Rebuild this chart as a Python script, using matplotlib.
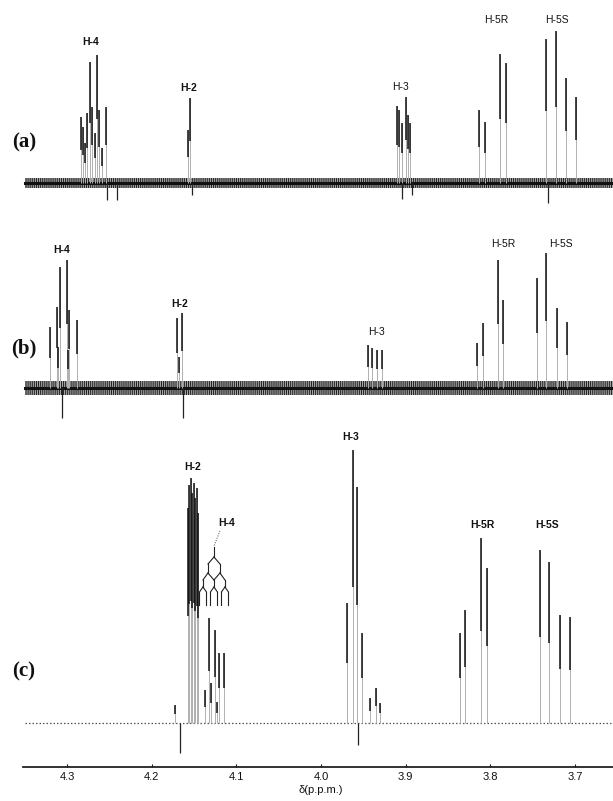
import matplotlib
matplotlib.use('Agg')
import matplotlib.pyplot as plt
import numpy as np

# ---------------- data (chemical shift in ppm, intensity in arbitrary units) -------------
# spectrum (a)
a_ppm = [4.2835, 4.2811, 4.2787, 4.2764, 4.2728, 4.2705, 4.2669, 4.2646, 4.2622, 4.2587,
         4.2540, 4.2528, 4.2410,
         4.1571, 4.1548, 4.1524,
         3.9104, 3.9080, 3.9045, 3.8998, 3.8974, 3.8950, 3.9040, 3.8927,
         3.8136, 3.8065, 3.7888, 3.7817, 3.7345, 3.7227, 3.7109, 3.6990, 3.7321]
a_int = [66, 56, 40, 70, 121, 76, 50, 128, 73, 35,
         76, -17, -17,
         53, 85, -12,
         77, 73, 60, 86, 68, 60, -16, -12,
         73, 61, 129, 120, 144, 152, 105, 86, -20]

# spectrum (b)
b_ppm = [4.3201, 4.3118, 4.3106, 4.3083, 4.3059, 4.3000, 4.2988, 4.2976, 4.2882,
         4.1701, 4.1678, 4.1642, 4.1630,
         3.9446, 3.9399, 3.9340, 3.9281,
         3.8159, 3.8088, 3.7911, 3.7852, 3.7451, 3.7345, 3.7215, 3.7097]
b_int = [61, 81, 41, 121, -30, 128, 38, 78, 68,
         70, 31, 75, -30,
         43, 40, 38, 38,
         45, 65, 128, 88, 110, 135, 80, 66]

# spectrum (c)
c_ppm = [4.1725, 4.1666,
         4.1571, 4.1553, 4.1536, 4.1518, 4.1500, 4.1483, 4.1465, 4.1448,
         4.1371, 4.1323, 4.1300, 4.1253, 4.1229, 4.1205, 4.1146,
         3.9694, 3.9623, 3.9575, 3.9564, 3.9517, 3.9422, 3.9352, 3.9305,
         3.8360, 3.8301, 3.8112, 3.8041, 3.7416, 3.7309, 3.7180, 3.7061]
c_int = [18, -30,
         215, 238, 245, 230, 240, 225, 235, 210,
         33, 105, 40, 93, 21, 70, 70,
         120, 273, 236, -22, 90, 25, 35, 20,
         90, 113, 185, 155, 173, 161, 108, 106]

spectra = ['(a)', '(b)', '(c)']
tick_values = [4.3, 4.2, 4.1, 4.0, 3.9, 3.8, 3.7]
tick_labels = ['4.3', '4.2', '4.1', '4.0', '3.9', '3.8', '3.7']

# peak labels: (text, ppm, intensity level, bold)
labels_a = [('H-4', 4.2716, 141, True), ('H-2', 4.1560, 95, True), ('H-3', 3.9057, 96, False),
            ('H-5R', 3.7935, 163, False), ('H-5S', 3.7215, 163, False)]
labels_b = [('H-4', 4.3059, 138, True), ('H-2', 4.1666, 84, True), ('H-3', 3.9340, 56, False),
            ('H-5R', 3.7853, 144, False), ('H-5S', 3.7168, 144, False)]
labels_c = [('H-2', 4.1512, 256, True), ('H-4', 4.1111, 200, True), ('H-3', 3.9647, 286, True),
            ('H-5R', 3.8088, 198, True), ('H-5S', 3.7333, 198, True)]

# ---------------- layout ----------------
W, H = 613, 801
fig = plt.figure(figsize=(W / 100, H / 100), dpi=100)
axis_px = 767
ax = fig.add_axes([0, (H - axis_px) / H, 1, axis_px / H])
ax.set_xlim(4.3791, 3.6551)
ax.set_ylim(0, axis_px)

bases = {'(a)': 584, '(b)': 379, '(c)': 44}
data = {'(a)': (a_ppm, a_int, labels_a), '(b)': (b_ppm, b_int, labels_b),
        '(c)': (c_ppm, c_int, labels_c)}

plt.rcParams['hatch.linewidth'] = 0.7
x_start = 4.3496
x_end = 3.6551

for name in spectra:
    ppm, inten, labs = data[name]
    base = bases[name]
    ppm = np.asarray(ppm)
    inten = np.asarray(inten, dtype=float)
    # baseline / noise band
    if name in ('(a)', '(b)'):
        half = 5 if name == '(a)' else 7
        ax.fill_between([x_start, x_end], base - half, base + half, facecolor='#9a9a9a',
                        edgecolor='#111111', hatch='||||||||', linewidth=0, alpha=0.9)
        ax.plot([x_start, x_end], [base, base], color='#111111', lw=2.2)
    else:
        ax.plot([x_start, x_end], [base, base], color='#555555', lw=0.9,
                linestyle=(0, (1.2, 1.6)))
    pos = inten > 0
    # faint full-length sticks
    ax.vlines(ppm[pos], base, base + inten[pos], color='#b0b0b0', lw=0.7)
    # dark upper part of each stick
    ax.vlines(ppm[pos], base + 0.5 * inten[pos], base + inten[pos], color='#111111', lw=1.1)
    ax.vlines(ppm[~pos], base, base + inten[~pos], color='#222222', lw=0.9)
    for txt, x, lvl, bold in labs:
        ax.text(x, base + lvl, txt, ha='center', va='center', fontsize=7.5,
                family='Liberation Sans', fontweight='bold' if bold else 'normal',
                color='#111111')

# panel letters
letter_y = {'(a)': 625, '(b)': 419, '(c)': 96}
for name in spectra:
    ax.text(4.3508, letter_y[name], name, ha='center', va='center', fontsize=15,
            family='Liberation Serif', fontweight='bold', color='#111111')

# splitting tree for H-4 in (c)
tx = 4.1264   # tree centre (ppm)
ty = 220      # tree top (intensity units above axis)
px = 1 / 847.0  # ppm per pixel
def seg(x0, y0, x1, y1):
    ax.plot([tx - x0 * px, tx - x1 * px], [ty - y0, ty - y1], color='#222222', lw=0.8)
seg(0, 0, 0, 10)
seg(0, 10, -6, 17); seg(0, 10, 6, 17)
seg(-6, 17, -6, 26); seg(6, 17, 6, 26)
seg(-6, 26, -11, 33); seg(-6, 26, 0, 33); seg(6, 26, 0, 33); seg(6, 26, 11, 33)
for n in (-11, 0, 11):
    seg(n, 33, n, 40)
    seg(n, 40, n - 3.5, 45); seg(n, 40, n + 3.5, 45)
    seg(n - 3.5, 45, n - 3.5, 58); seg(n + 3.5, 45, n + 3.5, 58)
# dotted leader from label
ax.plot([4.1193, 4.1264], [236, 221], color='#444444', lw=0.7, linestyle=(0, (1, 1.5)))

# axis styling
for s in ('top', 'left', 'right'):
    ax.spines[s].set_visible(False)
ax.spines['bottom'].set_bounds(4.352, 3.6551)
ax.spines['bottom'].set_linewidth(1.3)
ax.spines['bottom'].set_color('#222222')
ax.set_yticks([])
ax.set_xticks(tick_values)
ax.set_xticklabels(tick_labels, family='Liberation Sans', fontsize=8)
ax.tick_params(axis='x', direction='in', length=2.5, width=0.8, pad=3.5, colors='#111111')
ax.text(4.0, -23, 'δ(p.p.m.)', ha='center', va='center', fontsize=8,
        family='Liberation Sans', color='#111111', clip_on=False)

fig.savefig('out.png', dpi=100, facecolor='white')
